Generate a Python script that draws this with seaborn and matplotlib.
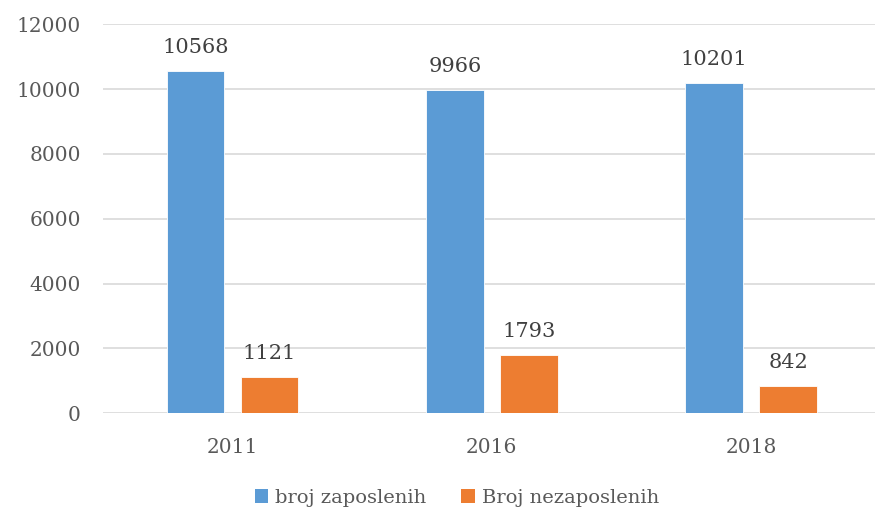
import matplotlib
matplotlib.use("Agg")
import matplotlib.pyplot as plt
import pandas as pd
import seaborn as sns
from matplotlib.patches import Patch

years = ["2011", "2016", "2018"]
series_names = ["broj zaposlenih", "Broj nezaposlenih"]
employed = [10568, 9966, 10201]
unemployed = [1121, 1793, 842]
bar_colors = ["#5B9BD5", "#ED7D31"]

df = pd.DataFrame({
    "year": years * 2,
    "series": [series_names[0]] * 3 + [series_names[1]] * 3,
    "value": employed + unemployed,
})

sns.set_style("white")
plt.rcParams["font.family"] = ["DejaVu Serif"]
text_col = "#595959"

fig = plt.figure(figsize=(8.75, 5.09), dpi=100)
ax = fig.add_axes([103 / 875, 95.7 / 509, 777.6 / 875, 389 / 509])

sns.barplot(data=df, x="year", y="value", hue="series", order=years,
            hue_order=series_names, palette=bar_colors, saturation=1,
            width=0.571, gap=0.22, dodge=True, ax=ax, legend=False,
            edgecolor="white", linewidth=0.6)

for cont in ax.containers:
    for bar in cont:
        h = bar.get_height()
        ax.annotate(f"{int(round(h))}", (bar.get_x() + bar.get_width() / 2, h),
                    xytext=(0, 10), textcoords="offset points", ha="center",
                    va="bottom", fontsize=15, color="#404040")

ax.set_xlim(-0.5, 2.5)
ax.set_ylim(0, 12000)
ax.set_yticks(range(0, 12001, 2000))
ax.yaxis.grid(True, color="#D9D9D9", linewidth=1.2)
ax.set_axisbelow(True)
for s in ax.spines.values():
    s.set_visible(False)
ax.tick_params(axis="y", length=0, pad=16, labelsize=14.5, labelcolor=text_col)
ax.tick_params(axis="x", length=0, pad=18, labelsize=14.5, labelcolor=text_col)
ax.set_xlabel("")
ax.set_ylabel("")

handles = [Patch(facecolor=c, edgecolor="none") for c in bar_colors]
fig.legend(handles, series_names, loc="center", bbox_to_anchor=(0.522, 0.022),
           ncol=2, frameon=False, fontsize=14, labelcolor=text_col,
           handlelength=0.7, handleheight=0.7, handletextpad=0.35,
           columnspacing=1.8)

fig.savefig("out.png", dpi=100)
